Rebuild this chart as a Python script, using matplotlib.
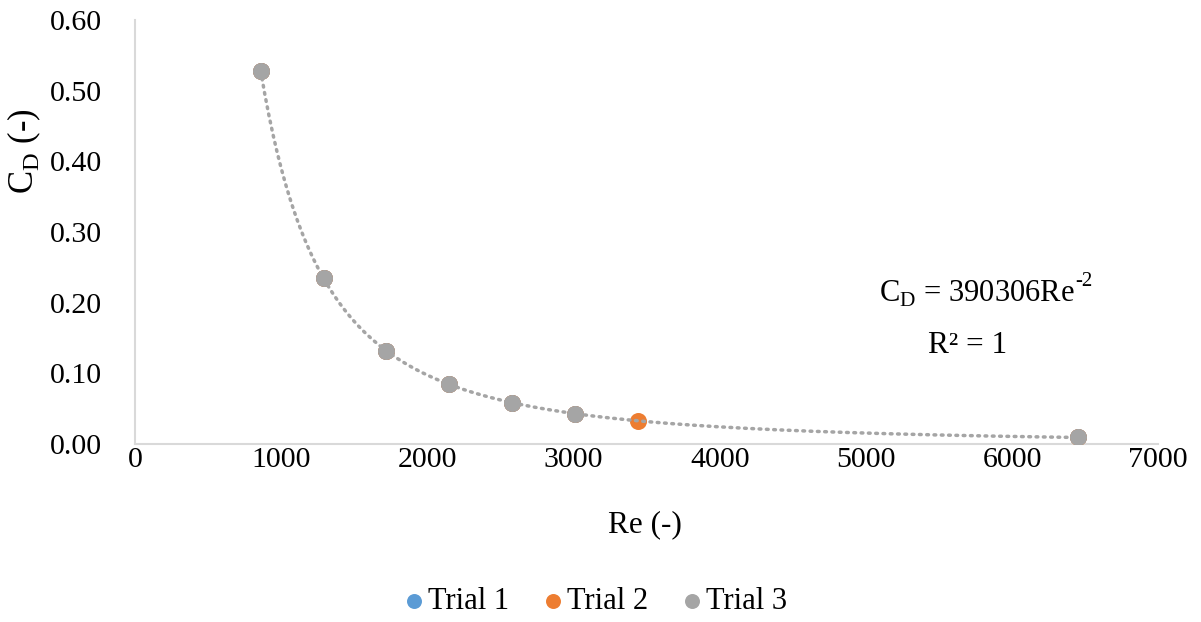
import numpy as np
import matplotlib
matplotlib.use("Agg")
import matplotlib.pyplot as plt

plt.rcParams['font.family'] = ['Liberation Serif', 'DejaVu Serif']
plt.rcParams['mathtext.fontset'] = 'custom'
plt.rcParams['mathtext.rm'] = 'Liberation Serif'

re_trial1 = [860, 1290, 1720, 2150, 2580, 3010, 6450]
cd_trial1 = [0.528, 0.2345, 0.132, 0.0844, 0.0586, 0.0431, 0.0094]
re_trial2 = [860, 1290, 1720, 2150, 2580, 3010, 3440, 6450]
cd_trial2 = [0.528, 0.2345, 0.132, 0.0844, 0.0586, 0.0431, 0.033, 0.0094]
re_trial3 = [860, 1290, 1720, 2150, 2580, 3010, 6450]
cd_trial3 = [0.528, 0.2345, 0.132, 0.0844, 0.0586, 0.0431, 0.0094]
fit_coef = 390306
fit_exp = -2

xticks = [0, 1000, 2000, 3000, 4000, 5000, 6000, 7000]
yticks = [0.0, 0.1, 0.2, 0.3, 0.4, 0.5, 0.6]

fig = plt.figure(figsize=(12.01, 6.22), dpi=100)
ax = fig.add_axes([0.1124, 0.286, 0.852, 0.682])

ms = 150
ax.scatter(re_trial1, cd_trial1, s=ms, color='#5b9bd5', label='Trial 1', zorder=2, linewidths=0)
ax.scatter(re_trial2, cd_trial2, s=ms, color='#ed7d31', label='Trial 2', zorder=3, linewidths=0)
xf = np.linspace(min(re_trial2), max(re_trial2), 400)
ax.plot(xf, fit_coef * xf ** fit_exp, color='#a5a5a5', lw=2.5, ls=(0, (0.5, 1.6)),
        dash_capstyle='round', zorder=4)
ax.scatter(re_trial3, cd_trial3, s=ms, color='#a5a5a5', label='Trial 3', zorder=5, linewidths=0)

ax.set_xlim(0, 7000)
ax.set_ylim(0, 0.6)
ax.set_xticks(xticks)
ax.set_yticks(yticks)
ax.set_yticklabels([f"{v:.2f}" for v in yticks])
ax.tick_params(length=0, labelsize=21.5, colors='black')
ax.tick_params(axis='y', pad=24)
ax.tick_params(axis='x', pad=2)
for s in ['top', 'right']:
    ax.spines[s].set_visible(False)
for s in ['left', 'bottom']:
    ax.spines[s].set_color('#d9d9d9')
    ax.spines[s].set_linewidth(1.5)

ax.set_xlabel('Re (-)', fontsize=22.5)
ax.xaxis.set_label_coords(0.4985, -0.191)
ax.xaxis.label.set_va('center')
ax.set_ylabel(r'C$_\mathregular{D}$ (-)', fontsize=25)
ax.yaxis.set_label_coords(-0.108, 0.69)
ax.yaxis.label.set_va('center')

eq = fig.text(0.732, 0.528, r'C$_\mathregular{D}$ = ' + f'{fit_coef}Re', fontsize=22, ha='left', va='center')
ax.annotate(f'{fit_exp}', xy=(1, 0.9), xycoords=eq, xytext=(0.5, 0), textcoords='offset points',
            fontsize=15, ha='left', va='center')
fig.text(0.773, 0.444, 'R² = 1', fontsize=22.5, ha='left', va='center')

leg = fig.legend(loc='center', bbox_to_anchor=(0.497, 0.033), ncol=3, frameon=False,
                 fontsize=22, handlelength=0.5, handletextpad=0.2, columnspacing=1.2,
                 markerscale=0.88)

fig.savefig('out.png', dpi=100)
